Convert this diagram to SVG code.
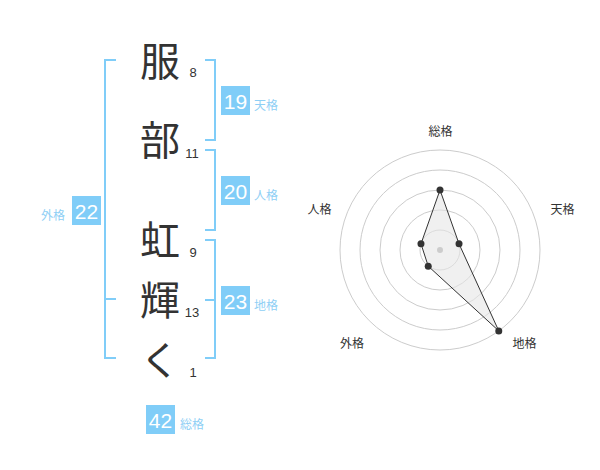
<svg xmlns="http://www.w3.org/2000/svg" width="600" height="470" viewBox="0 0 600 470">
<style>
.ch{font-family:"Noto Sans CJK JP","Noto Sans CJK SC",sans-serif;font-size:40px;fill:#333;text-anchor:middle}
.sn{font-family:"Liberation Sans",Arial,sans-serif;font-size:13px;fill:#333;text-anchor:middle}
.box{fill:#80cdf8}
.bn{font-family:"Liberation Sans",Arial,sans-serif;font-size:21px;fill:#fff;text-anchor:middle}
.bl{font-family:"Noto Sans CJK JP","Noto Sans CJK SC",sans-serif;font-size:12px;fill:#8fcff5}
.br{fill:none;stroke:#80cdf8;stroke-width:2}
.ring{fill:none;stroke:#cccccc;stroke-width:1}
.rl{font-family:"Noto Sans CJK JP","Noto Sans CJK SC",sans-serif;font-size:12px;fill:#333;text-anchor:middle}
.pt{fill:#333}
</style>
<rect width="600" height="470" fill="#fff"/>
<g id="connectors">
<path class="br" d="M116,60 H105 V358 H116 M105,299 H116"/>
<path class="br" d="M205,60 H215 V140 H205"/>
<path class="br" d="M205,150 H215 V230 H205"/>
<path class="br" d="M205,240 H215 V358 H205 M205,300 H215"/>
</g>
<g id="char1"><text class="ch" x="160" y="75.5">服</text><text class="sn" x="193" y="77">8</text></g>
<g id="char2"><text class="ch" x="160" y="155">部</text><text class="sn" x="192" y="158">11</text></g>
<g id="char3"><text class="ch" x="160" y="254.5">虹</text><text class="sn" x="193" y="257">9</text></g>
<g id="char4"><text class="ch" x="160" y="314.5">輝</text><text class="sn" x="192" y="317">13</text></g>
<g id="char5"><text class="ch" x="160" y="375">く</text><text class="sn" x="193" y="377">1</text></g>
<g id="tenkaku"><rect class="box" x="221" y="86" width="29" height="29"/><text class="bn" x="235.5" y="108.5">19</text><text class="bl" x="254" y="109.5">天格</text></g>
<g id="jinkaku"><rect class="box" x="221" y="176" width="29" height="29"/><text class="bn" x="235.5" y="198.5">20</text><text class="bl" x="254" y="199.5">人格</text></g>
<g id="chikaku"><rect class="box" x="221" y="286" width="29" height="29"/><text class="bn" x="235.5" y="308.5">23</text><text class="bl" x="254" y="309.5">地格</text></g>
<g id="gaikaku"><rect class="box" x="72" y="196" width="29" height="29"/><text class="bn" x="86.5" y="218.5">22</text><text class="bl" x="41" y="219.5">外格</text></g>
<g id="soukaku"><rect class="box" x="146" y="405" width="29" height="29"/><text class="bn" x="160.5" y="427.5">42</text><text class="bl" x="180" y="428.5">総格</text></g>
<g id="radar">
<circle class="ring" cx="440" cy="250" r="20"/>
<circle class="ring" cx="440" cy="250" r="40"/>
<circle class="ring" cx="440" cy="250" r="60"/>
<circle class="ring" cx="440" cy="250" r="80"/>
<circle class="ring" cx="440" cy="250" r="100"/>
<polygon points="440,190 459.02,243.82 498.78,330.9 428.24,266.18 420.98,243.82" fill="#e6e6e6" fill-opacity="0.6" stroke="#333" stroke-width="1"/>
<circle cx="440" cy="250" r="3" fill="#cccccc"/>
<circle class="pt" cx="440" cy="190" r="3.5"/>
<circle class="pt" cx="459.02" cy="243.82" r="3.5"/>
<circle class="pt" cx="498.78" cy="330.9" r="3.5"/>
<circle class="pt" cx="428.24" cy="266.18" r="3.5"/>
<circle class="pt" cx="420.98" cy="243.82" r="3.5"/>
<text class="rl" x="440.5" y="135.5">総格</text>
<text class="rl" x="562.5" y="213.5">天格</text>
<text class="rl" x="524.5" y="347.5">地格</text>
<text class="rl" x="352" y="347.5">外格</text>
<text class="rl" x="319.5" y="213.5">人格</text>
</g>
</svg>
